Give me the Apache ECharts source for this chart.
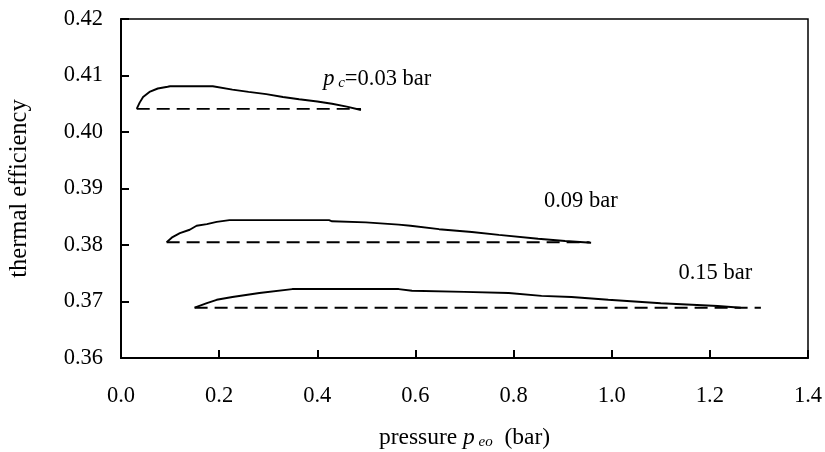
<!DOCTYPE html>
<html>
<head>
<meta charset="utf-8">
<script src="https://cdn.jsdelivr.net/npm/echarts@6/dist/echarts.min.js"></script>
<style>html,body{margin:0;padding:0;background:#fff}#c{width:825px;height:452px}</style>
</head>
<body>
<div id="c"></div>
<script>
// x ticks / y ticks
var xTicks = [0.0, 0.2, 0.4, 0.6, 0.8, 1.0, 1.2, 1.4];
var yTicks = [0.36, 0.37, 0.38, 0.39, 0.40, 0.41, 0.42];

// pc = 0.03 bar
var p03x = [0.032, 0.038, 0.045, 0.058, 0.075, 0.095, 0.1, 0.187, 0.19, 0.227, 0.26, 0.296, 0.33, 0.363, 0.40, 0.43, 0.46, 0.489];
var p03y = [0.4041, 0.4052, 0.4062, 0.4071, 0.4077, 0.4080, 0.4081, 0.4081, 0.4078, 0.4075, 0.4071, 0.4067, 0.4062, 0.4058, 0.4054, 0.4050, 0.4045, 0.4039];
var p03dash = [[0.032, 0.4041], [0.489, 0.4041]];

// pc = 0.09 bar
var p09x = [0.093, 0.105, 0.12, 0.14, 0.154, 0.175, 0.195, 0.221, 0.30, 0.424, 0.43, 0.499, 0.566, 0.59, 0.648, 0.715, 0.77, 0.85, 0.905, 0.958];
var p09y = [0.3805, 0.3814, 0.3821, 0.3827, 0.3834, 0.3837, 0.3841, 0.3844, 0.3844, 0.3844, 0.3842, 0.3840, 0.3836, 0.3834, 0.3828, 0.3823, 0.3818, 0.3811, 0.3807, 0.3804];
var p09dash = [[0.093, 0.3805], [0.955, 0.3805]];

// pc = 0.15 bar
var p15x = [0.150, 0.175, 0.195, 0.227, 0.282, 0.349, 0.45, 0.566, 0.593, 0.70, 0.79, 0.857, 0.918, 0.993, 1.10, 1.216, 1.263];
var p15y = [0.3689, 0.3697, 0.3703, 0.3708, 0.3715, 0.3722, 0.3722, 0.3722, 0.3719, 0.3717, 0.3715, 0.3710, 0.3708, 0.3703, 0.3697, 0.3692, 0.3689];
var p15dash = [[0.150, 0.3689], [1.304, 0.3689]];

// annotation positions (data coords) and texts
var labelPos = [[0.412, 0.4094], [0.862, 0.3878], [1.136, 0.3750]];
var labelText = ['{i|p}{sub| c}{n|=0.03 bar}', '{n|0.09 bar}', '{n|0.15 bar}'];

function zip(xs, ys) { return xs.map(function (x, i) { return [x, ys[i]]; }); }

var FONT = '"Liberation Serif", "DejaVu Serif", serif';
var chart = echarts.init(document.getElementById('c'), null, { renderer: 'canvas' });

var solidStyle = { color: '#000', width: 1.9 };
var dashStyle = { color: '#000', width: 1.9, type: [13, 7] };

chart.setOption({
  animation: false,
  backgroundColor: '#fff',
  grid: { left: 121, right: 17, top: 19, bottom: 94, show: true, borderColor: '#000', borderWidth: 1.5, containLabel: false, outerBoundsMode: 'none' },
  xAxis: {
    type: 'value', min: 0, max: 1.4, interval: 0.2,
    axisLine: { show: true, onZero: false, lineStyle: { color: '#000', width: 2 } },
    axisTick: { show: true, inside: true, length: 8, lineStyle: { color: '#000', width: 2 } },
    splitLine: { show: false },
    axisLabel: { color: '#000', fontFamily: FONT, fontSize: 22.5, margin: 27, formatter: function (v) { return v.toFixed(1); } },
    name: '{n|pressure }{i|p}{sub| eo}{n|  (bar)}',
    nameLocation: 'middle', nameGap: 68,
    nameTextStyle: {
      rich: {
        n: { fontFamily: FONT, fontSize: 23.5, color: '#000' },
        i: { fontFamily: FONT, fontSize: 23.5, fontStyle: 'italic', color: '#000' },
        sub: { fontFamily: FONT, fontSize: 15, fontStyle: 'italic', color: '#000', verticalAlign: 'bottom', padding: [9, 0, 0, 0] }
      }
    }
  },
  yAxis: {
    type: 'value', min: 0.36, max: 0.42, interval: 0.01,
    axisLine: { show: true, onZero: false, lineStyle: { color: '#000', width: 2 } },
    axisTick: { show: true, inside: true, length: 8, lineStyle: { color: '#000', width: 2 } },
    splitLine: { show: false },
    axisLabel: { color: '#000', fontFamily: FONT, fontSize: 22.5, margin: 18, formatter: function (v) { return v.toFixed(2); } },
    name: 'thermal efficiency',
    nameLocation: 'middle', nameGap: 89, nameRotate: 90,
    nameTextStyle: { fontFamily: FONT, fontSize: 24.5, color: '#000' }
  },
  series: [
    { type: 'line', data: zip(p03x, p03y), showSymbol: false, lineStyle: solidStyle, z: 3 },
    { type: 'line', data: p03dash, showSymbol: false, lineStyle: dashStyle },
    { type: 'line', data: zip(p09x, p09y), showSymbol: false, lineStyle: solidStyle, z: 3 },
    { type: 'line', data: p09dash, showSymbol: false, lineStyle: dashStyle },
    { type: 'line', data: zip(p15x, p15y), showSymbol: false, lineStyle: solidStyle, z: 3 },
    { type: 'line', data: p15dash, showSymbol: false, lineStyle: dashStyle },
    {
      type: 'scatter', symbolSize: 0, itemStyle: { opacity: 1 },
      data: labelPos.map(function (p, i) { return { value: p, label: { formatter: labelText[i] } }; }),
      label: {
        show: true, position: 'right', distance: 0, color: '#000', opacity: 1,
        rich: {
          n: { fontFamily: FONT, fontSize: 22.5, color: '#000' },
          i: { fontFamily: FONT, fontSize: 22.5, fontStyle: 'italic', color: '#000' },
          sub: { fontFamily: FONT, fontSize: 15, fontStyle: 'italic', color: '#000', verticalAlign: 'bottom', padding: [9, 0, 0, 0] }
        }
      }
    }
  ]
});
</script>
</body>
</html>
